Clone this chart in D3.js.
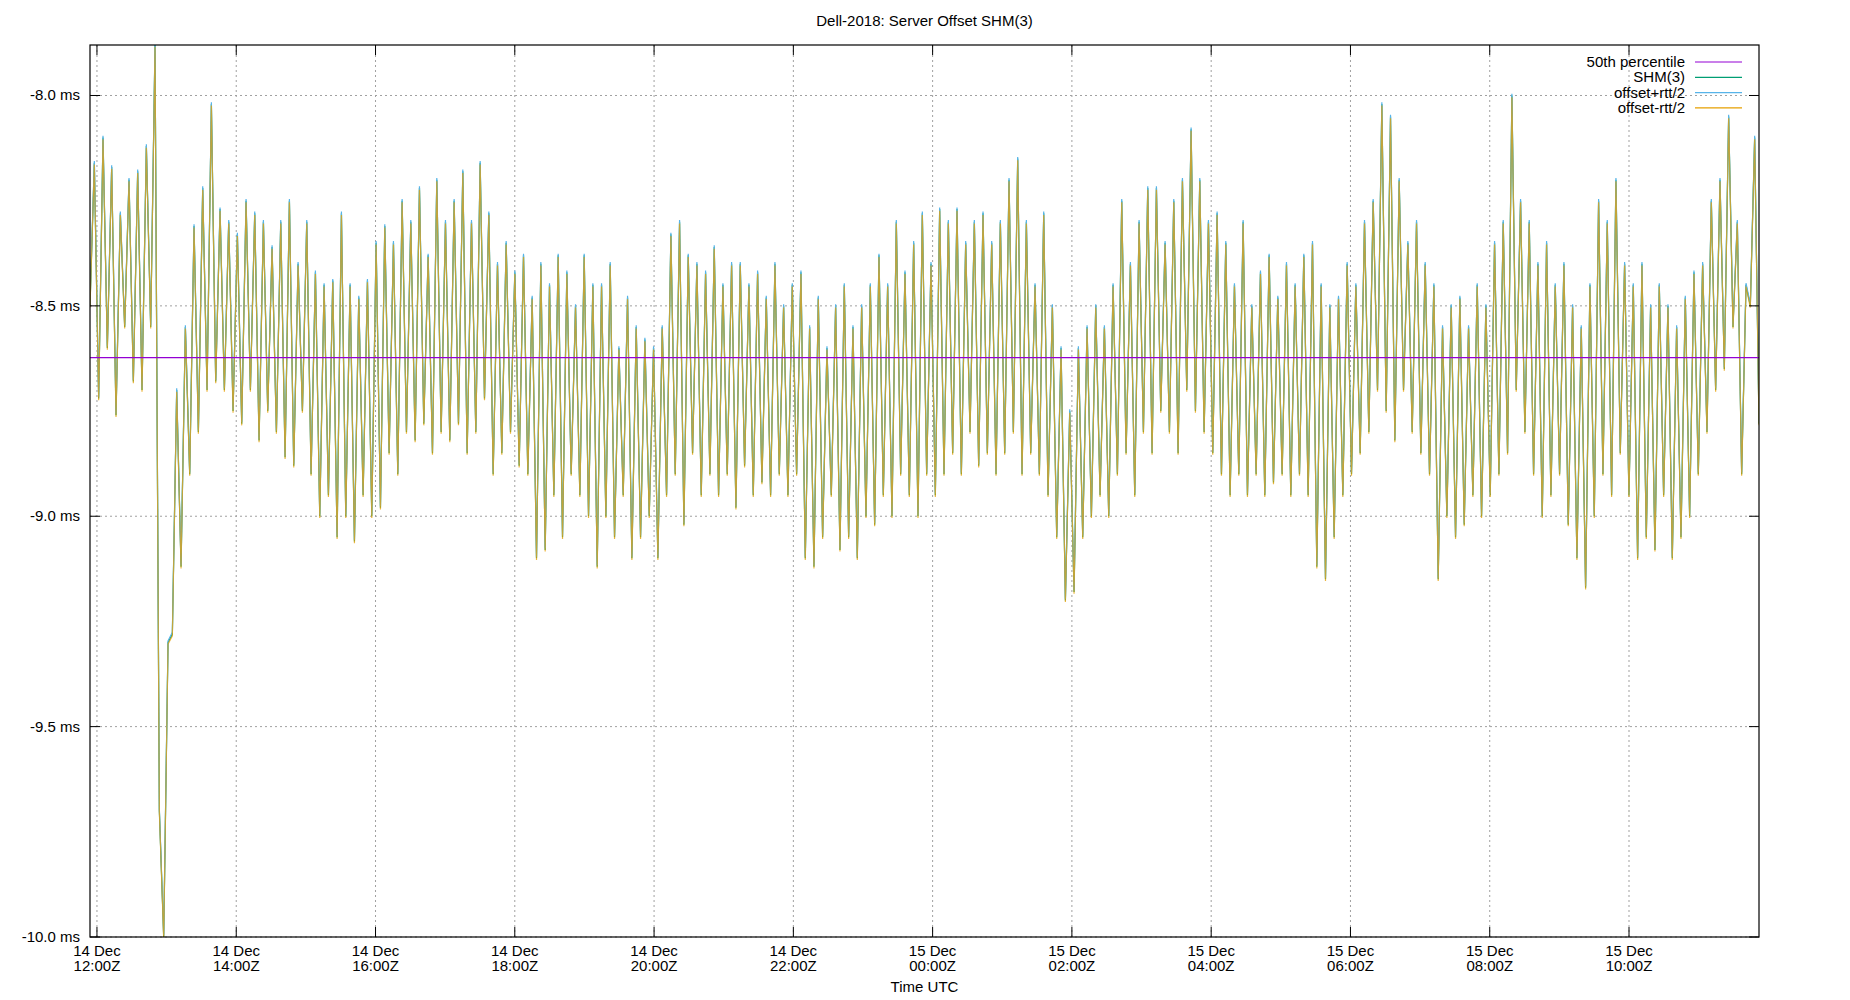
<!DOCTYPE html>
<html>
<head>
<meta charset="utf-8">
<script src="https://cdn.jsdelivr.net/npm/d3@7"></script>
<style>
body { margin: 0; background: #fff; }
text { font-family: "Liberation Sans", Arial, sans-serif; fill: #000; }
</style>
</head>
<body>
<svg width="1850" height="1000"></svg>
<script>
var svg = d3.select("svg"),
  width = +svg.attr("width"),
  height = +svg.attr("height");

// data (ms)
var shm = [
  -8.5, -8.16, -8.72,
  -8.1, -8.6, -8.17, -8.76, -8.28, -8.55, -8.2, -8.68, -8.18, -8.7, -8.12, -8.55, -7.88, -9.7, -10.0, -9.3,
  -9.28, -8.7, -9.12, -8.55, -8.9, -8.31, -8.8, -8.22, -8.7, -8.02, -8.68, -8.27, -8.7, -8.3, -8.75, -8.33, -8.78, -8.25,
  -8.7, -8.28, -8.82, -8.3, -8.75, -8.36, -8.8, -8.3, -8.86, -8.25, -8.88, -8.4, -8.75, -8.3, -8.9, -8.42,
  -9.0, -8.45, -8.95, -8.44, -9.05, -8.28, -9.0, -8.45, -9.06, -8.48, -8.95, -8.44, -9.0, -8.35, -8.98, -8.31,
  -8.85, -8.35, -8.9, -8.25, -8.8, -8.3, -8.82, -8.22, -8.78, -8.38, -8.85, -8.2, -8.8, -8.3, -8.82, -8.25,
  -8.78, -8.18, -8.85, -8.3, -8.8, -8.16, -8.72, -8.28, -8.9, -8.4, -8.85, -8.35, -8.8, -8.42, -8.88, -8.38,
  -8.9, -8.48, -9.1, -8.4, -9.08, -8.45, -8.95, -8.38, -9.05, -8.42, -8.9, -8.5, -8.95, -8.38, -9.0, -8.45,
  -9.12, -8.45, -9.0, -8.4, -9.05, -8.6, -8.95, -8.48, -9.1, -8.55, -9.05, -8.58, -9.0, -8.6, -9.1, -8.55,
  -8.95, -8.33, -8.9, -8.3, -9.02, -8.38, -8.85, -8.4, -8.95, -8.42, -8.9, -8.36, -8.95, -8.45, -8.9, -8.4,
  -8.98, -8.4, -8.88, -8.45, -8.95, -8.42, -8.92, -8.48, -8.95, -8.4, -8.9, -8.5, -8.95, -8.45, -8.9, -8.42,
  -9.1, -8.55, -9.12, -8.48, -9.05, -8.6, -8.95, -8.5, -9.08, -8.45, -9.05, -8.55, -9.1, -8.5, -9.0, -8.45,
  -9.02, -8.38, -8.95, -8.45, -9.0, -8.3, -8.9, -8.42, -8.95, -8.35, -9.0, -8.28, -8.9, -8.4, -8.95, -8.27,
  -8.9, -8.3, -8.85, -8.27, -8.9, -8.35, -8.8, -8.3, -8.88, -8.28, -8.85, -8.35, -8.9, -8.3, -8.85, -8.2,
  -8.8, -8.15, -8.9, -8.3, -8.85, -8.45, -8.9, -8.28, -8.95, -8.5, -9.05, -8.6, -9.2, -8.75, -9.18, -8.6,
  -9.05, -8.55, -9.0, -8.5, -8.95, -8.55, -9.0, -8.45, -8.9, -8.25, -8.85, -8.4, -8.95, -8.3, -8.8, -8.22,
  -8.85, -8.22, -8.75, -8.35, -8.8, -8.25, -8.85, -8.2, -8.7, -8.08, -8.75, -8.2, -8.8, -8.3, -8.85, -8.28,
  -8.9, -8.35, -8.95, -8.45, -8.9, -8.3, -8.95, -8.5, -8.9, -8.42, -8.95, -8.38, -8.92, -8.48, -8.9, -8.4,
  -8.95, -8.45, -8.9, -8.38, -8.95, -8.35, -9.12, -8.45, -9.15, -8.5, -9.05, -8.48, -8.95, -8.4, -8.9, -8.45,
  -8.85, -8.3, -8.8, -8.25, -8.7, -8.02, -8.75, -8.05, -8.82, -8.2, -8.7, -8.35, -8.8, -8.3, -8.85, -8.4,
  -8.9, -8.45, -9.15, -8.55, -9.0, -8.5, -9.05, -8.48, -9.02, -8.55, -8.95, -8.45, -9.0, -8.5, -8.95, -8.35,
  -8.9, -8.3, -8.85, -8.0, -8.7, -8.25, -8.8, -8.3, -8.9, -8.4, -9.0, -8.35, -8.95, -8.45, -8.9, -8.4,
  -9.02, -8.5, -9.1, -8.55, -9.17, -8.45, -9.0, -8.25, -8.9, -8.3, -8.95, -8.2, -8.85, -8.4, -8.95, -8.45,
  -9.1, -8.4, -9.05, -8.5, -9.08, -8.45, -8.95, -8.5, -9.1, -8.55, -9.05, -8.48, -9.0, -8.42, -8.9, -8.4,
  -8.8, -8.25, -8.7, -8.2, -8.65, -8.05, -8.55, -8.3, -8.9, -8.45, -8.5, -8.1, -8.78
];
var rttHalf = 0.004;
var median = -8.623;
var startTime = new Date(Date.UTC(2018, 11, 14, 11, 54));
var endTime = new Date(Date.UTC(2018, 11, 15, 11, 52));
var yTicks = [-10.0, -9.5, -9.0, -8.5, -8.0];
var legendNames = ["50th percentile", "SHM(3)", "offset+rtt/2", "offset-rtt/2"];
var legendColors = ["#9400d3", "#009e73", "#56b4e9", "#e69f00"];

var pLeft = 90, pRight = 1759, pTop = 45, pBottom = 937;

var step = (endTime - startTime) / (shm.length - 1);
var pts = shm.map((v, i) => ({ t: new Date(+startTime + i * step), v: v }));

var x = d3.scaleTime().domain([startTime, endTime]).range([pLeft, pRight]);
var y = d3.scaleLinear().domain([-10.0, -7.88]).range([pBottom, pTop]);

var xTicks = d3.utcHour.every(2).range(startTime, endTime);

// grid
var grid = svg.append("g").attr("stroke", "#a0a0a0").attr("stroke-dasharray", "2,3").attr("stroke-width", 1);
grid.selectAll(".gx").data(xTicks).enter().append("line")
  .attr("x1", d => x(d)).attr("x2", d => x(d)).attr("y1", pTop).attr("y2", pBottom);
grid.selectAll(".gy").data(yTicks).enter().append("line")
  .attr("x1", pLeft).attr("x2", pRight).attr("y1", d => y(d)).attr("y2", d => y(d));

// lines
var line = d3.line().x(d => x(d.t)).y(d => y(d.v));
svg.append("clipPath").attr("id", "clip").append("rect")
  .attr("x", pLeft).attr("y", pTop).attr("width", pRight - pLeft).attr("height", pBottom - pTop);
var plot = svg.append("g").attr("clip-path", "url(#clip)").attr("fill", "none");
plot.append("path").datum(pts).attr("d", line).attr("stroke", legendColors[1]).attr("stroke-width", 1.2);
plot.append("path").datum(pts.map(d => ({ t: d.t, v: d.v + rttHalf }))).attr("d", line)
  .attr("stroke", legendColors[2]).attr("stroke-width", 1.2);
plot.append("path").datum(pts.map(d => ({ t: d.t, v: d.v - rttHalf }))).attr("d", line)
  .attr("stroke", legendColors[3]).attr("stroke-width", 1.2).attr("stroke-opacity", 0.75);
plot.append("line").attr("x1", pLeft).attr("x2", pRight).attr("y1", y(median)).attr("y2", y(median))
  .attr("stroke", legendColors[0]).attr("stroke-width", 1.2);

// frame and ticks
svg.append("rect").attr("x", pLeft).attr("y", pTop).attr("width", pRight - pLeft).attr("height", pBottom - pTop)
  .attr("fill", "none").attr("stroke", "#000").attr("stroke-width", 1.2);
var tk = svg.append("g").attr("stroke", "#000");
tk.selectAll(".tb").data(xTicks).enter().append("line")
  .attr("x1", d => x(d)).attr("x2", d => x(d)).attr("y1", pBottom).attr("y2", pBottom - 10);
tk.selectAll(".tt").data(xTicks).enter().append("line")
  .attr("x1", d => x(d)).attr("x2", d => x(d)).attr("y1", pTop).attr("y2", pTop + 10);
tk.selectAll(".tl").data(yTicks).enter().append("line")
  .attr("x1", pLeft).attr("x2", pLeft + 10).attr("y1", d => y(d)).attr("y2", d => y(d));
tk.selectAll(".tr").data(yTicks).enter().append("line")
  .attr("x1", pRight).attr("x2", pRight - 10).attr("y1", d => y(d)).attr("y2", d => y(d));

// tick labels
svg.selectAll(".yl").data(yTicks).enter().append("text")
  .attr("x", pLeft - 10).attr("y", d => y(d) + 5).attr("text-anchor", "end").attr("font-size", "15px")
  .text(d => d.toFixed(1) + " ms");
var fmtDay = d3.utcFormat("%d %b"), fmtHour = d3.utcFormat("%H:%MZ");
var xl = svg.selectAll(".xl").data(xTicks).enter().append("text")
  .attr("text-anchor", "middle").attr("font-size", "15px");
xl.append("tspan").attr("x", d => x(d)).attr("y", pBottom + 19).text(d => fmtDay(d));
xl.append("tspan").attr("x", d => x(d)).attr("y", pBottom + 34).text(d => fmtHour(d));

svg.append("text").attr("x", (pLeft + pRight) / 2).attr("y", 992).attr("text-anchor", "middle")
  .attr("font-size", "15px").text("Time UTC");
svg.append("text").attr("x", (pLeft + pRight) / 2).attr("y", 26).attr("text-anchor", "middle")
  .attr("font-size", "15px").text("Dell-2018: Server Offset SHM(3)");

// legend
var leg = svg.append("g").selectAll("g").data(legendNames).enter().append("g")
  .attr("transform", (d, i) => "translate(0," + (62 + i * 15.3) + ")");
leg.append("text").attr("x", 1685).attr("y", 5).attr("text-anchor", "end").attr("font-size", "15px").text(d => d);
leg.append("line").attr("x1", 1695).attr("x2", 1742).attr("stroke", (d, i) => legendColors[i]).attr("stroke-width", 1.2);
</script>
</body>
</html>
